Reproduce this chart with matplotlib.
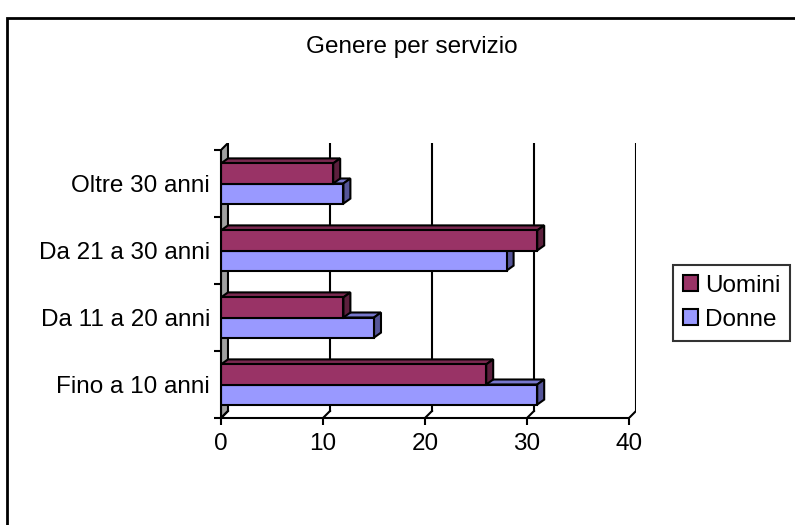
import matplotlib.pyplot as plt
from matplotlib.patches import Polygon, Rectangle, Patch

# dati
categorie = ['Fino a 10 anni', 'Da 11 a 20 anni', 'Da 21 a 30 anni', 'Oltre 30 anni']
uomini = [26, 12, 31, 11]
donne = [31, 15, 28, 12]
x_ticks = [0, 10, 20, 30, 40]

plt.rcParams['font.family'] = ['Liberation Sans', 'DejaVu Sans']

fig = plt.figure(figsize=(7.95, 5.25), dpi=100)
W, H = 795, 525
LW = 1.5

# area del grafico (in pixel: fronte da x=221 a 630, y da 150 a 418)
ax = fig.add_axes([221 / W, 1 - 418 / H, 415 / W, 275 / H])
px_x = 409 / 40
px_y = 268 / 4
dx = 7 / px_x      # profondita' delle pareti
dy = 7 / px_y
bdx = 7 / px_x     # profondita' delle barre
bdy = 5 / px_y
xmax = x_ticks[-1]
n = len(categorie)
ax.set_xlim(0, xmax + dx)
ax.set_ylim(-0.5, n - 0.5 + dy)

# parete sinistra grigia
ax.add_patch(Polygon([(0, -0.5), (dx, -0.5 + dy), (dx, n - 0.5 + dy), (0, n - 0.5)], closed=True,
                     facecolor='#a0a0a0', edgecolor='black', lw=LW, zorder=1))
# griglia sulla parete di fondo + bordi del pavimento
for v in x_ticks[1:]:
    ax.plot([v + dx, v + dx], [-0.5 + dy, n - 0.5 + dy], color='black', lw=LW, zorder=1)
for v in x_ticks:
    ax.plot([v, v + dx], [-0.5, -0.5 + dy], color='black', lw=LW, zorder=1)

h = 0.3
serie = [(donne, -0.15, '#9999FF', '#7777cc', '#555599'),
         (uomini, 0.15, '#993366', '#7a2950', '#5c1f3d')]
for valori, off, fc, top_c, side_c in serie:
    for i, v in enumerate(valori):
        y0 = i + off - h / 2
        y1 = i + off + h / 2
        ax.add_patch(Polygon([(0, y1), (bdx, y1 + bdy), (v + bdx, y1 + bdy), (v, y1)],
                             closed=True, facecolor=top_c, edgecolor='black', lw=LW, zorder=3))
        ax.add_patch(Polygon([(v, y0), (v, y1), (v + bdx, y1 + bdy), (v + bdx, y0 + bdy)],
                             closed=True, facecolor=side_c, edgecolor='black', lw=LW, zorder=3))
        ax.add_patch(Rectangle((0, y0), v, h, facecolor=fc, edgecolor='black', lw=LW, zorder=4))

for s in ['top', 'right']:
    ax.spines[s].set_visible(False)
ax.spines['bottom'].set_bounds(0, xmax)
ax.spines['left'].set_bounds(-0.5, n - 0.5)
for s in ['bottom', 'left']:
    ax.spines[s].set_linewidth(LW)
    ax.spines[s].set_zorder(5)
ax.patch.set_visible(False)

ax.set_xticks(x_ticks)
ax.set_xticklabels([str(t) for t in x_ticks], fontsize=17.5)
ax.tick_params(axis='x', length=5, width=LW, pad=6)
ax.set_yticks(range(n))
ax.set_yticklabels(categorie, fontsize=17.5)
ax.tick_params(axis='y', which='major', length=0, pad=8)
ax.set_yticks([i - 0.5 for i in range(n + 1)], minor=True)
ax.tick_params(axis='y', which='minor', length=5, width=LW)

fig.text(412 / W, 1 - 47 / H, 'Genere per servizio', fontsize=17.5, ha='center', va='center')

# legenda
handles = [Patch(facecolor='#993366', edgecolor='black', lw=LW, label='Uomini'),
           Patch(facecolor='#9999FF', edgecolor='black', lw=LW, label='Donne')]
leg = fig.legend(handles=handles, loc='upper left', bbox_to_anchor=(673 / W, 1 - 265 / H),
                 fontsize=17.5, frameon=True, fancybox=False, borderpad=0.4,
                 handlelength=0.62, handleheight=0.62, handletextpad=0.3,
                 labelspacing=0.5, borderaxespad=0)
leg.get_frame().set_edgecolor('black')
leg.get_frame().set_linewidth(LW)

# cornice esterna
fig.patches.append(Rectangle((7 / W, -0.05), 1.1, 1 - 18 / H + 0.05, transform=fig.transFigure,
                             fill=False, edgecolor='black', lw=2))

fig.savefig('out.png', dpi=100)
